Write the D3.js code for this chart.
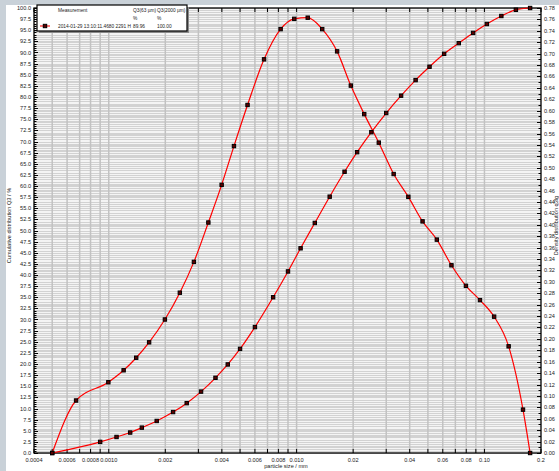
<!DOCTYPE html>
<html><head><meta charset="utf-8">
<script src="https://cdn.jsdelivr.net/npm/d3@7"></script>
<style>body{margin:0;background:#c9d1d8;} svg{display:block;} text{font-family:"Liberation Sans",Arial,sans-serif;}</style>
</head><body>
<svg id="c" width="559" height="471"></svg>
<script>
// ---- data ----
const cumX = [0.0005,0.0009,0.0011,0.0013,0.0015,0.0018,0.0022,0.0026,0.0031,0.0037,0.0043,0.0050,0.0060,0.0075,0.0090,0.0105,0.0125,0.0150,0.0180,0.0210,0.0250,0.0300,0.0360,0.0430,0.0510,0.0610,0.0730,0.0870,0.1030,0.1230,0.1470,0.1750];
const cumY = [0,2.5,3.6,4.6,5.7,7.2,9.2,11.2,13.8,16.9,19.9,23.4,28.3,35.0,40.8,46.0,51.7,57.6,63.2,67.6,72.1,76.4,80.3,83.8,86.8,89.7,92.1,94.4,96.4,98.2,99.6,100.0];
const densX = [0.0005,0.00067,0.000995,0.0012,0.0014,0.00164,0.00199,0.00239,0.00284,0.00339,0.00399,0.00464,0.00548,0.00671,0.00822,0.00972,0.01146,0.01369,0.01643,0.01944,0.02291,0.02739,0.03286,0.03934,0.04683,0.05578,0.06673,0.07969,0.09466,0.1126,0.1345,0.1604,0.175];
const densY = [0,0.092,0.124,0.145,0.167,0.194,0.234,0.281,0.335,0.404,0.470,0.538,0.610,0.690,0.743,0.761,0.763,0.743,0.704,0.644,0.594,0.544,0.489,0.449,0.406,0.374,0.329,0.293,0.268,0.239,0.187,0.076,0];
const xTickLabels = ["0.0004","0.0006","0.0008","0.0010","0.002","0.004","0.006","0.008","0.010","0.02","0.04","0.06","0.08","0.10","0.2"];
const legendHeader = ["Measurement","Q3(63 µm)","Q3(2000 µm)"];
const legendUnits = ["%","%"];
const legendRow = ["2014-01-29 13:10:11.4680 2291 H","89.96","100.00"];

// ---- layout ----
const L = 34, R = 541, T = 8, B = 453;
const svg = d3.select("#c");
svg.append("rect").attr("x",6).attr("y",5).attr("width",553).attr("height",466).attr("fill","#fff");

const x = d3.scaleLog().domain([0.0004,0.2]).range([L,R]);
const yL = d3.scaleLinear().domain([0,100]).range([B,T]);
const yR = d3.scaleLinear().domain([0,0.78]).range([B,T]);

const g = svg.append("g");
g.append("rect").attr("x",L).attr("y",T).attr("width",R-L).attr("height",B-T).attr("fill","#f4f4f4");

// horizontal grid (left minor ticks + right minor ticks)
const hl = d3.range(0,100.01,0.5);
g.selectAll(".hl").data(hl).enter().append("line")
  .attr("x1",L).attr("x2",R).attr("y1",d=>Math.round(yL(d))+0.5).attr("y2",d=>Math.round(yL(d))+0.5)
  .attr("stroke","#d2d2d2").attr("stroke-width",1);
const hr = d3.range(0,0.7801,0.01);
g.selectAll(".hr").data(hr).enter().append("line")
  .attr("x1",L).attr("x2",R).attr("y1",d=>Math.round(yR(d))+0.5).attr("y2",d=>Math.round(yR(d))+0.5)
  .attr("stroke","#d2d2d2").attr("stroke-width",1);

// vertical grid at log ticks
const vt = x.ticks(40).filter(d=>d>0.0004 && d<0.2);
g.selectAll(".vl").data(vt).enter().append("line")
  .attr("x1",d=>x(d)).attr("x2",d=>x(d)).attr("y1",T).attr("y2",B)
  .attr("stroke","#c2c2c2").attr("stroke-width",1.5);

// frame
g.append("rect").attr("x",L).attr("y",T).attr("width",R-L).attr("height",B-T).attr("fill","none").attr("stroke","#000").attr("stroke-width",1.3);

// axis ticks
const allT = x.ticks(40);
g.selectAll(".tt").data(allT).enter().append("line")
  .attr("x1",d=>x(d)).attr("x2",d=>x(d)).attr("y1",T).attr("y2",T+4).attr("stroke","#000").attr("stroke-width",1);
g.selectAll(".bt").data(allT).enter().append("line")
  .attr("x1",d=>x(d)).attr("x2",d=>x(d)).attr("y1",B).attr("y2",B-4).attr("stroke","#000").attr("stroke-width",1);

// left ticks
g.selectAll(".lt").data(hl).enter().append("line")
  .attr("x1",L).attr("x2",d=> (Math.abs(d/2.5-Math.round(d/2.5))<1e-6)? L+4 : L+2.5)
  .attr("y1",d=>Math.round(yL(d))+0.5).attr("y2",d=>Math.round(yL(d))+0.5).attr("stroke","#000");
// right ticks
g.selectAll(".rt").data(hr).enter().append("line")
  .attr("x1",R).attr("x2",(d,i)=> i%2===0 ? R-4 : R-2.5)
  .attr("y1",d=>Math.round(yR(d))+0.5).attr("y2",d=>Math.round(yR(d))+0.5).attr("stroke","#000");

// tick labels
const fs = 5.6;
g.selectAll(".ll").data(d3.range(0,100.01,2.5)).enter().append("text")
  .attr("x",L-3).attr("y",d=>yL(d)+2).attr("text-anchor","end").attr("font-size",fs).attr("fill","#222")
  .text(d=>d.toFixed(1));
g.selectAll(".rl").data(d3.range(0,0.7801,0.02)).enter().append("text")
  .attr("x",R+3).attr("y",d=>yR(d)+2).attr("text-anchor","start").attr("font-size",fs).attr("fill","#222")
  .text(d=>d.toFixed(2));
g.selectAll(".xl").data(xTickLabels).enter().append("text")
  .attr("x",d=>x(+d)).attr("y",B+9).attr("text-anchor","middle").attr("font-size",fs).attr("fill","#222")
  .text(d=>d);

// axis titles
svg.append("text").attr("transform",`translate(11,${(T+B)/2-5}) rotate(-90)`).attr("text-anchor","middle")
  .attr("font-size",fs).attr("fill","#222").text("Cumulative distribution Q3 / %");
svg.append("text").attr("transform",`translate(557.5,${(T+B)/2-5}) rotate(-90)`).attr("text-anchor","middle")
  .attr("font-size",fs).attr("fill","#222").text("Density distribution q3lg");
svg.append("text").attr("x",286).attr("y",468).attr("text-anchor","middle")
  .attr("font-size",fs).attr("fill","#222").text("particle size / mm");

// curves
const cumData = cumX.map((v,i)=>[v,cumY[i]]);
const densData = densX.map((v,i)=>[v,densY[i]]);
const lineL = d3.line().x(d=>x(d[0])).y(d=>yL(d[1])).curve(d3.curveMonotoneX);
const lineR = d3.line().x(d=>x(d[0])).y(d=>yR(d[1])).curve(d3.curveMonotoneX);
g.append("path").attr("d",lineL(cumData)).attr("fill","none").attr("stroke","#ff0000").attr("stroke-width",1.2);
g.append("path").attr("d",lineR(densData)).attr("fill","none").attr("stroke","#ff0000").attr("stroke-width",1.2);
const ms = 3.4;
g.selectAll(".mc").data(cumData).enter().append("rect")
  .attr("x",d=>x(d[0])-ms/2).attr("y",d=>yL(d[1])-ms/2).attr("width",ms).attr("height",ms)
  .attr("fill","#5a0000").attr("stroke","#000").attr("stroke-width",1);
g.selectAll(".md").data(densData).enter().append("rect")
  .attr("x",d=>x(d[0])-ms/2).attr("y",d=>yR(d[1])-ms/2).attr("width",ms).attr("height",ms)
  .attr("fill","#5a0000").attr("stroke","#000").attr("stroke-width",1);

// legend
const lg = svg.append("g");
lg.append("rect").attr("x",39).attr("y",7).attr("width",150).attr("height",26).attr("fill","#8a8a8a");
lg.append("rect").attr("x",37).attr("y",5).attr("width",150).attr("height",26).attr("fill","#fff").attr("stroke","#000").attr("stroke-width",1.2);
const colX = [58,133,157];
const lfs = 4.8;
legendHeader.forEach((t,i)=>lg.append("text").attr("x",colX[i]).attr("y",12).attr("font-size",lfs).attr("fill","#222").text(t));
legendUnits.forEach((t,i)=>lg.append("text").attr("x",colX[i+1]).attr("y",20).attr("font-size",lfs).attr("fill","#222").text(t));
legendRow.forEach((t,i)=>lg.append("text").attr("x",colX[i]).attr("y",27.5).attr("font-size",lfs).attr("fill","#222").text(t));
lg.append("line").attr("x1",40).attr("x2",50).attr("y1",26).attr("y2",26).attr("stroke","#ff0000").attr("stroke-width",1.5).attr("opacity",0.7);
lg.append("rect").attr("x",43.3).attr("y",24.3).attr("width",3.4).attr("height",3.4).attr("fill","#5a0000").attr("stroke","#000").attr("stroke-width",1);
</script>
</body></html>
